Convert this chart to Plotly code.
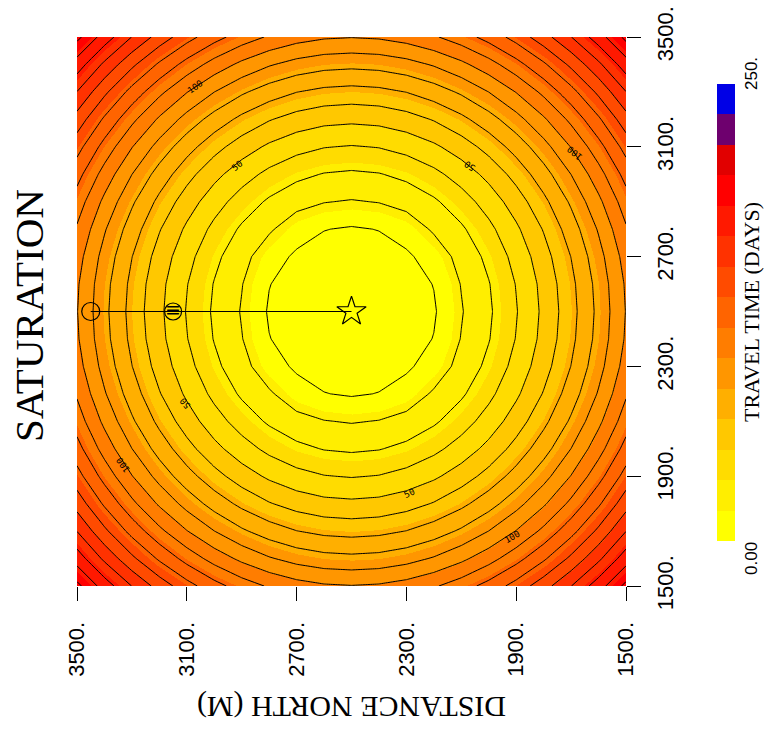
import plotly.graph_objects as go

# ---------------- data ----------------
x_m = [1500, 1600, 1700, 1800, 1900, 2000, 2100, 2200, 2300, 2400, 2500,
       2600, 2700, 2800, 2900, 3000, 3100, 3200, 3300, 3400, 3500]
y_m = [1500, 1600, 1700, 1800, 1900, 2000, 2100, 2200, 2300, 2400, 2500,
       2600, 2700, 2800, 2900, 3000, 3100, 3200, 3300, 3400, 3500]

# travel time (days), rows = y from 1500 to 3500, cols = x from 1500 to 3500
travel_time = [
    [192.8, 175.4, 159.8, 145.9, 133.9, 123.7, 115.3, 108.8, 104.1, 101.3, 100.4, 101.3, 104.1, 108.8, 115.3, 123.7, 133.9, 145.9, 159.8, 175.4, 192.8],
    [175.4, 157.9, 142.2, 128.4, 116.3, 106.0, 97.6, 91.0, 86.3, 83.5, 82.6, 83.5, 86.3, 91.0, 97.6, 106.0, 116.3, 128.4, 142.2, 157.9, 175.4],
    [159.8, 142.2, 126.5, 112.5, 100.4, 90.1, 81.6, 75.0, 70.2, 67.4, 66.4, 67.4, 70.2, 75.0, 81.6, 90.1, 100.4, 112.5, 126.5, 142.2, 159.8],
    [145.9, 128.4, 112.5, 98.5, 86.3, 75.9, 67.4, 60.7, 55.9, 53.0, 52.1, 53.0, 55.9, 60.7, 67.4, 75.9, 86.3, 98.5, 112.5, 128.4, 145.9],
    [133.9, 116.3, 100.4, 86.3, 74.0, 63.6, 55.0, 48.2, 43.3, 40.4, 39.4, 40.4, 43.3, 48.2, 55.0, 63.6, 74.0, 86.3, 100.4, 116.3, 133.9],
    [123.7, 106.0, 90.1, 75.9, 63.6, 53.0, 44.3, 37.4, 32.5, 29.5, 28.5, 29.5, 32.5, 37.4, 44.3, 53.0, 63.6, 75.9, 90.1, 106.0, 123.7],
    [115.3, 97.6, 81.6, 67.4, 55.0, 44.3, 35.5, 28.5, 23.4, 20.4, 19.3, 20.4, 23.4, 28.5, 35.5, 44.3, 55.0, 67.4, 81.6, 97.6, 115.3],
    [108.8, 91.0, 75.0, 60.7, 48.2, 37.4, 28.5, 21.4, 14.0, 10.3, 9.0, 10.3, 14.0, 21.4, 28.5, 37.4, 48.2, 60.7, 75.0, 91.0, 108.8],
    [104.1, 86.3, 70.2, 55.9, 43.3, 32.5, 23.4, 14.0, 8.5, 6.0, 5.0, 6.0, 8.5, 14.0, 23.4, 32.5, 43.3, 55.9, 70.2, 86.3, 104.1],
    [101.3, 83.5, 67.4, 53.0, 40.4, 29.5, 20.4, 10.3, 6.0, 3.2, 2.0, 3.2, 6.0, 10.3, 20.4, 29.5, 40.4, 53.0, 67.4, 83.5, 101.3],
    [100.4, 82.6, 66.4, 52.1, 39.4, 28.5, 19.3, 9.0, 5.0, 2.0, 0.0, 2.0, 5.0, 9.0, 19.3, 28.5, 39.4, 52.1, 66.4, 82.6, 100.4],
    [101.3, 83.5, 67.4, 53.0, 40.4, 29.5, 20.4, 10.3, 6.0, 3.2, 2.0, 3.2, 6.0, 10.3, 20.4, 29.5, 40.4, 53.0, 67.4, 83.5, 101.3],
    [104.1, 86.3, 70.2, 55.9, 43.3, 32.5, 23.4, 14.0, 8.5, 6.0, 5.0, 6.0, 8.5, 14.0, 23.4, 32.5, 43.3, 55.9, 70.2, 86.3, 104.1],
    [108.8, 91.0, 75.0, 60.7, 48.2, 37.4, 28.5, 21.4, 14.0, 10.3, 9.0, 10.3, 14.0, 21.4, 28.5, 37.4, 48.2, 60.7, 75.0, 91.0, 108.8],
    [115.3, 97.6, 81.6, 67.4, 55.0, 44.3, 35.5, 28.5, 23.4, 20.4, 19.3, 20.4, 23.4, 28.5, 35.5, 44.3, 55.0, 67.4, 81.6, 97.6, 115.3],
    [123.7, 106.0, 90.1, 75.9, 63.6, 53.0, 44.3, 37.4, 32.5, 29.5, 28.5, 29.5, 32.5, 37.4, 44.3, 53.0, 63.6, 75.9, 90.1, 106.0, 123.7],
    [133.9, 116.3, 100.4, 86.3, 74.0, 63.6, 55.0, 48.2, 43.3, 40.4, 39.4, 40.4, 43.3, 48.2, 55.0, 63.6, 74.0, 86.3, 100.4, 116.3, 133.9],
    [145.9, 128.4, 112.5, 98.5, 86.3, 75.9, 67.4, 60.7, 55.9, 53.0, 52.1, 53.0, 55.9, 60.7, 67.4, 75.9, 86.3, 98.5, 112.5, 128.4, 145.9],
    [159.8, 142.2, 126.5, 112.5, 100.4, 90.1, 81.6, 75.0, 70.2, 67.4, 66.4, 67.4, 70.2, 75.0, 81.6, 90.1, 100.4, 112.5, 126.5, 142.2, 159.8],
    [175.4, 157.9, 142.2, 128.4, 116.3, 106.0, 97.6, 91.0, 86.3, 83.5, 82.6, 83.5, 86.3, 91.0, 97.6, 106.0, 116.3, 128.4, 142.2, 157.9, 175.4],
    [192.8, 175.4, 159.8, 145.9, 133.9, 123.7, 115.3, 108.8, 104.1, 101.3, 100.4, 101.3, 104.1, 108.8, 115.3, 123.7, 133.9, 145.9, 159.8, 175.4, 192.8],
]

# 15 colour bands, 0 -> 250 days (bottom to top of the colour bar)
band_colors = ["#ffff00", "#ffee00", "#ffdc00", "#ffc800", "#ffaf00",
               "#ff9600", "#ff7d00", "#ff6400", "#ff4b00", "#ff3200",
               "#ff1900", "#ff0000", "#e10000", "#6e006e", "#0000e6"]
t_min, t_max = 0.0, 250.0
cbar_labels = ["0.00", "250."]

contour_start, contour_end, contour_step = 10, 240, 10

x_ticks = [3500, 3100, 2700, 2300, 1900, 1500]
x_ticklabels = ["3500.", "3100.", "2700.", "2300.", "1900.", "1500."]
y_ticks = [3500, 3100, 2700, 2300, 1900, 1500]
y_ticklabels = ["3500.", "3100.", "2700.", "2300.", "1900.", "1500."]

well_x, well_y = [2500], [2500]
obs_x, obs_y = [3150], [2500]
start_x, start_y = [3450], [2500]
path_x, path_y = [3450, 2500], [2500, 2500]

# contour labels: text, x, y, angle
clabel_text = ["100", "50", "50", "100", "50", "100", "50", "100"]
clabel_x = [3070, 2917, 2068, 1686, 3107, 3332, 2287, 1915]
clabel_y = [3318, 3030, 3030, 3077, 2167, 1941, 1839, 1679]
clabel_ang = [-35, -40, -145, -140, -130, -125, -25, -30]

# ---------------- figure ----------------
n = len(band_colors)
colorscale = []
for k, c in enumerate(band_colors):
    colorscale.append([k / n, c])
    colorscale.append([(k + 1) / n, c])

L, R, T, B = 77, 141, 37, 145
W, H = 767, 731
pw, ph = W - L - R, H - T - B


def px(xp):
    return (xp - L) / pw


def py(yp):
    return (H - B - yp) / ph


fig = go.Figure()

fig.add_trace(go.Heatmap(
    x=x_m, y=y_m, z=travel_time, zmin=t_min, zmax=t_max,
    colorscale=colorscale, zsmooth="best", hoverinfo="skip",
    colorbar=dict(x=px(717), xanchor="left", y=py(312.5), yanchor="middle",
                  len=(541 - 84) / ph, lenmode="fraction",
                  thickness=18, thicknessmode="pixels", outlinewidth=0,
                  showticklabels=False, ticks="", xpad=0, ypad=0),
))

fig.add_trace(go.Contour(
    x=x_m, y=y_m, z=travel_time,
    contours=dict(start=contour_start, end=contour_end, size=contour_step,
                  coloring="none"),
    line=dict(color="black", width=1, smoothing=0),
    showscale=False, hoverinfo="skip",
))

fig.add_trace(go.Scatter(x=path_x, y=path_y, mode="lines",
                         line=dict(color="black", width=1), hoverinfo="skip"))
fig.add_trace(go.Scatter(x=start_x, y=start_y, mode="markers",
                         marker=dict(symbol="circle-open", size=18, color="black",
                                     line=dict(width=1.2))))
fig.add_trace(go.Scatter(x=obs_x, y=obs_y, mode="markers+text", text=["≡"],
                         textposition="middle center",
                         textfont=dict(size=19, color="black", family="DejaVu Sans"),
                         marker=dict(symbol="circle-open", size=17, color="black",
                                     line=dict(width=1.2))))
fig.add_trace(go.Scatter(x=well_x, y=well_y, mode="markers",
                         marker=dict(symbol="star-open", size=22, color="black",
                                     line=dict(width=1.2))))

annotations = []
for t, xx, yy, a in zip(clabel_text, clabel_x, clabel_y, clabel_ang):
    annotations.append(dict(x=xx, y=yy, xref="x", yref="y", text=t, showarrow=False,
                            xanchor="center", yanchor="middle",
                            textangle=a, font=dict(size=9, color="black",
                                                   family="DejaVu Sans Mono")))

serif = "Liberation Serif"
sans = "Liberation Sans"


def page_text(text, xp, yp, size, family, angle):
    return dict(x=px(xp), y=py(yp), xref="paper", yref="paper", text=text,
                showarrow=False, textangle=angle, xanchor="center", yanchor="middle",
                font=dict(size=size, family=family, color="black"))


annotations += [
    page_text("DISTANCE NORTH (M)", 351.5, 707, 30, serif, 180),
    page_text("SATURATION", 29, 316, 41, serif, -90),
    page_text("TRAVEL TIME (DAYS)", 751, 312, 22, serif, -90),
    page_text(cbar_labels[0], 751, 559, 17, sans, -90),
    page_text(cbar_labels[1], 751, 74, 17, sans, -90),
]

fig.update_layout(
    width=W, height=H, margin=dict(l=L, r=R, t=T, b=B, autoexpand=False),
    paper_bgcolor="white", plot_bgcolor="white", showlegend=False,
    annotations=annotations,
    xaxis=dict(range=[3500, 1500], tickvals=x_ticks, ticktext=x_ticklabels,
               ticks="outside", ticklen=14, tickwidth=1, tickcolor="black",
               tickangle=-90, showgrid=False, zeroline=False, showline=False,
               ticklabelstandoff=12, automargin=False,
               tickfont=dict(size=22, family=sans, color="black")),
    yaxis=dict(range=[1500, 3500], tickvals=y_ticks, ticktext=y_ticklabels,
               side="right", ticks="outside", ticklen=14, tickwidth=1,
               tickcolor="black", tickangle=-90, showgrid=False, zeroline=False,
               showline=False, ticklabelstandoff=6, automargin=False,
               tickfont=dict(size=22, family=sans, color="black")),
)

fig.write_html("out.html")
